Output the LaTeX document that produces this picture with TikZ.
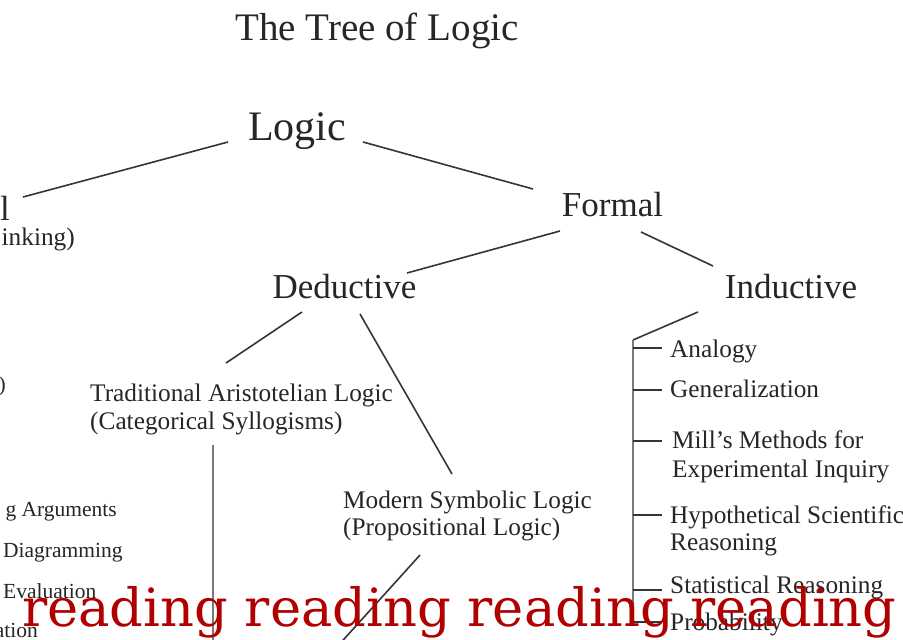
\documentclass[tikz,border=0pt]{standalone}
\usepackage{fontspec}
\setmainfont{Liberation Serif}
\newfontfamily\redfont{DejaVu Serif}
\definecolor{ink}{HTML}{262626}
\definecolor{wire}{HTML}{353535}
\definecolor{stem}{HTML}{7A7A7A}
\definecolor{stamp}{HTML}{B00000}
\begin{document}
\begin{tikzpicture}[x=1pt,y=-1pt,
  lbl/.style={inner sep=0pt, text=ink, anchor=base west},
  lblc/.style={inner sep=0pt, text=ink, anchor=base},
  lble/.style={inner sep=0pt, text=ink, anchor=base east},
  big/.style={font=\fontsize{42}{48}\selectfont},
  mid/.style={font=\fontsize{35}{40}\selectfont},
  sub/.style={font=\fontsize{25.3}{29}\selectfont},
  small/.style={font=\fontsize{21.5}{25}\selectfont},
  link/.style={draw=wire, line width=1.6pt},
  trunk/.style={draw=stem, line width=2.8pt},
  tick/.style={draw=wire, line width=1.6pt}]
\useasboundingbox (0,0) rectangle (903,640);
\clip (0,0) rectangle (903,640);
\fill[white] (0,0) rectangle (903,640);

% headings
\node[lblc, font=\fontsize{39}{44}\selectfont] (title) at (377,40) {The Tree of Logic};
\node[lblc,big] (logic) at (297,140) {Logic};
\node[lblc,mid] (formal) at (612.5,216) {Formal};
\node[lblc,mid] (deductive) at (344.5,298) {Deductive};
\node[lblc,mid] (inductive) at (791,298) {Inductive};

% left, cut-off side
\node[lble,mid] (informal) at (10,220) {l};
\node[lble,sub] (critical) at (75,245) {inking)};
\node[lble,small] (leftA) at (6,391) {)};
\node[lble,small] (argA) at (117,516) {g Arguments};
\node[lbl,small] (argB) at (3,557) {Diagramming};
\node[lbl,small] (argC) at (3,598) {Evaluation};
\node[lble,small] (argD) at (38,637) {ation};

% deductive branches
\node[lbl,sub] (trad1) at (90,401) {Traditional Aristotelian Logic};
\node[lbl,sub] (trad2) at (90,429) {(Categorical Syllogisms)};
\node[lbl,sub] (mod1) at (343,508) {Modern Symbolic Logic};
\node[lbl,sub] (mod2) at (343,535) {(Propositional Logic)};

% inductive list
\node[lbl,sub] (analogy) at (670,357) {Analogy};
\node[lbl,sub] (general) at (670,397) {Generalization};
\node[lbl,sub] (mills1) at (672,448) {Mill's Methods for};
\node[lbl,sub] (mills2) at (672,477) {Experimental Inquiry};
\node[lbl,sub] (hypo1) at (670,523) {Hypothetical Scientific};
\node[lbl,sub] (hypo2) at (670,550) {Reasoning};
\node[lbl,sub] (stat) at (670,593) {Statistical Reasoning};
\node[lbl,sub] (prob) at (670,630) {Probability};

% connector end points
\coordinate (logicL) at (228,142);
\coordinate (infR) at (23,197);
\coordinate (logicR) at (363,142);
\coordinate (formalT) at (533,189);
\coordinate (formalL) at (560,231);
\coordinate (dedT) at (407,273);
\coordinate (formalR) at (641,232);
\coordinate (indT) at (713,266);
\coordinate (dedL) at (302,312);
\coordinate (tradT) at (226,363);
\coordinate (dedR) at (360,314);
\coordinate (modT) at (452,474);
\coordinate (tradB) at (213,445);
\coordinate (tradEnd) at (213,645);
\coordinate (modB) at (420,555);
\coordinate (modEnd) at (336,648);
\coordinate (indL) at (698,312);
\coordinate (spineTop) at (633,340);
\coordinate (spineBot) at (633,623);
\coordinate (s1) at (633,348);
\coordinate (s2) at (633,390);
\coordinate (s3) at (633,441);
\coordinate (s4) at (633,515);
\coordinate (s5) at (633,590);
\coordinate (s6) at (633,622);

\draw[link] (logicL) -- (infR);
\draw[link] (logicR) -- (formalT);
\draw[link] (formalL) -- (dedT);
\draw[link] (formalR) -- (indT);
\draw[link] (dedL) -- (tradT);
\draw[link] (dedR) -- (modT);
\draw[trunk] (tradB) -- (tradEnd);
\draw[link] (modB) -- (modEnd);
\draw[link] (indL) -- (spineTop);
\draw[trunk] (spineTop) -- (spineBot);
\foreach \s in {s1,s2,s3,s4,s5,s6} \draw[tick] (\s) -- ++(29,0);

% overlay word
\node[anchor=base west, inner sep=0pt, text=stamp, font=\redfont\fontsize{52.7}{60}\selectfont] (stampA) at (22,626) {reading reading reading reading};
\end{tikzpicture}
\end{document}
